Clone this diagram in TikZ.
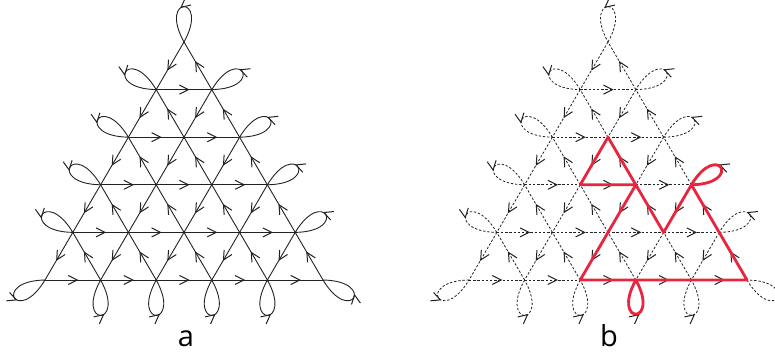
\documentclass[tikz,border=0pt]{standalone}
\usepackage{fontspec}
\setsansfont{Open Sans}
\usetikzlibrary{arrows.meta,decorations.markings}
\definecolor{cInk}{HTML}{222222}
\definecolor{cPath}{HTML}{E8243F}
\tikzset{
  edge/.style     = {draw=cInk, line width=0.9pt},
  dashedge/.style = {edge, line width=0.8pt, dash pattern=on 2.4pt off 1.8pt},
  midarrow/.style = {postaction={decorate}, decoration={markings,
                     mark=at position #1 with {\arrow[solid]{Straight Barb[length=9pt,width=9pt,line width=1pt]}}}},
  midarrow/.default = 0.6,
  redpath/.style  = {draw=cPath, line width=2.8pt, line join=round, line cap=round},
  tag/.style      = {font=\sffamily\fontsize{29}{32}\selectfont, anchor=base, inner sep=0pt},
}
\begin{document}
\begin{tikzpicture}[x=1pt, y=-1pt]
  \useasboundingbox (0,0) rectangle (775,358);
  \foreach \p/\cx/\sty in {a/184/edge, b/608/dashedge} {
    % lattice points, rows 0..5
    \foreach \r in {0,...,5}
      \foreach \k in {0,...,\r}
        \coordinate (\p-\r-\k) at ({\cx+(\k-\r/2)*55.6}, {42+\r*47.6});
    % edges: right, down-left, up-left
    \foreach \r in {0,...,4} {
      \pgfmathtruncatemacro\rr{\r+1}
      \foreach \k in {0,...,\r} {
        \pgfmathtruncatemacro\kk{\k+1}
        \draw[\sty, midarrow] (\p-\rr-\k) -- (\p-\rr-\kk);
        \draw[\sty, midarrow] (\p-\r-\k) -- (\p-\rr-\k);
        \draw[\sty, midarrow] (\p-\rr-\kk) -- (\p-\r-\k);
      }
    }
    % loops on the boundary
    \foreach \n/\a in {0-0/90, 1-0/150, 2-0/150, 3-0/150, 4-0/150,
                       1-1/30, 2-2/30, 3-3/30, 4-4/30,
                       5-1/270, 5-2/270, 5-3/270, 5-4/270, 5-0/210, 5-5/330}
      \draw[\sty, midarrow=0.55] (\p-\n) .. controls +(\a-29:54pt) and +(\a+29:54pt) .. (\p-\n);
  }
  % highlighted walk
  \draw[redpath] (b-5-2) -- (b-3-2) -- (b-4-3) -- (b-3-3) -- (b-5-5) -- cycle;
  \draw[redpath] (b-2-1) -- (b-3-1) -- (b-3-2) -- cycle;
  \draw[redpath] (b-5-3) .. controls +(241:52pt) and +(299:52pt) .. (b-5-3);
  \draw[redpath] (b-3-3) .. controls +(1:52pt) and +(59:52pt) .. (b-3-3);
  \node[tag] (la) at (186,346) {a};
  \node[tag] (lb) at (609,346) {b};
\end{tikzpicture}
\end{document}
